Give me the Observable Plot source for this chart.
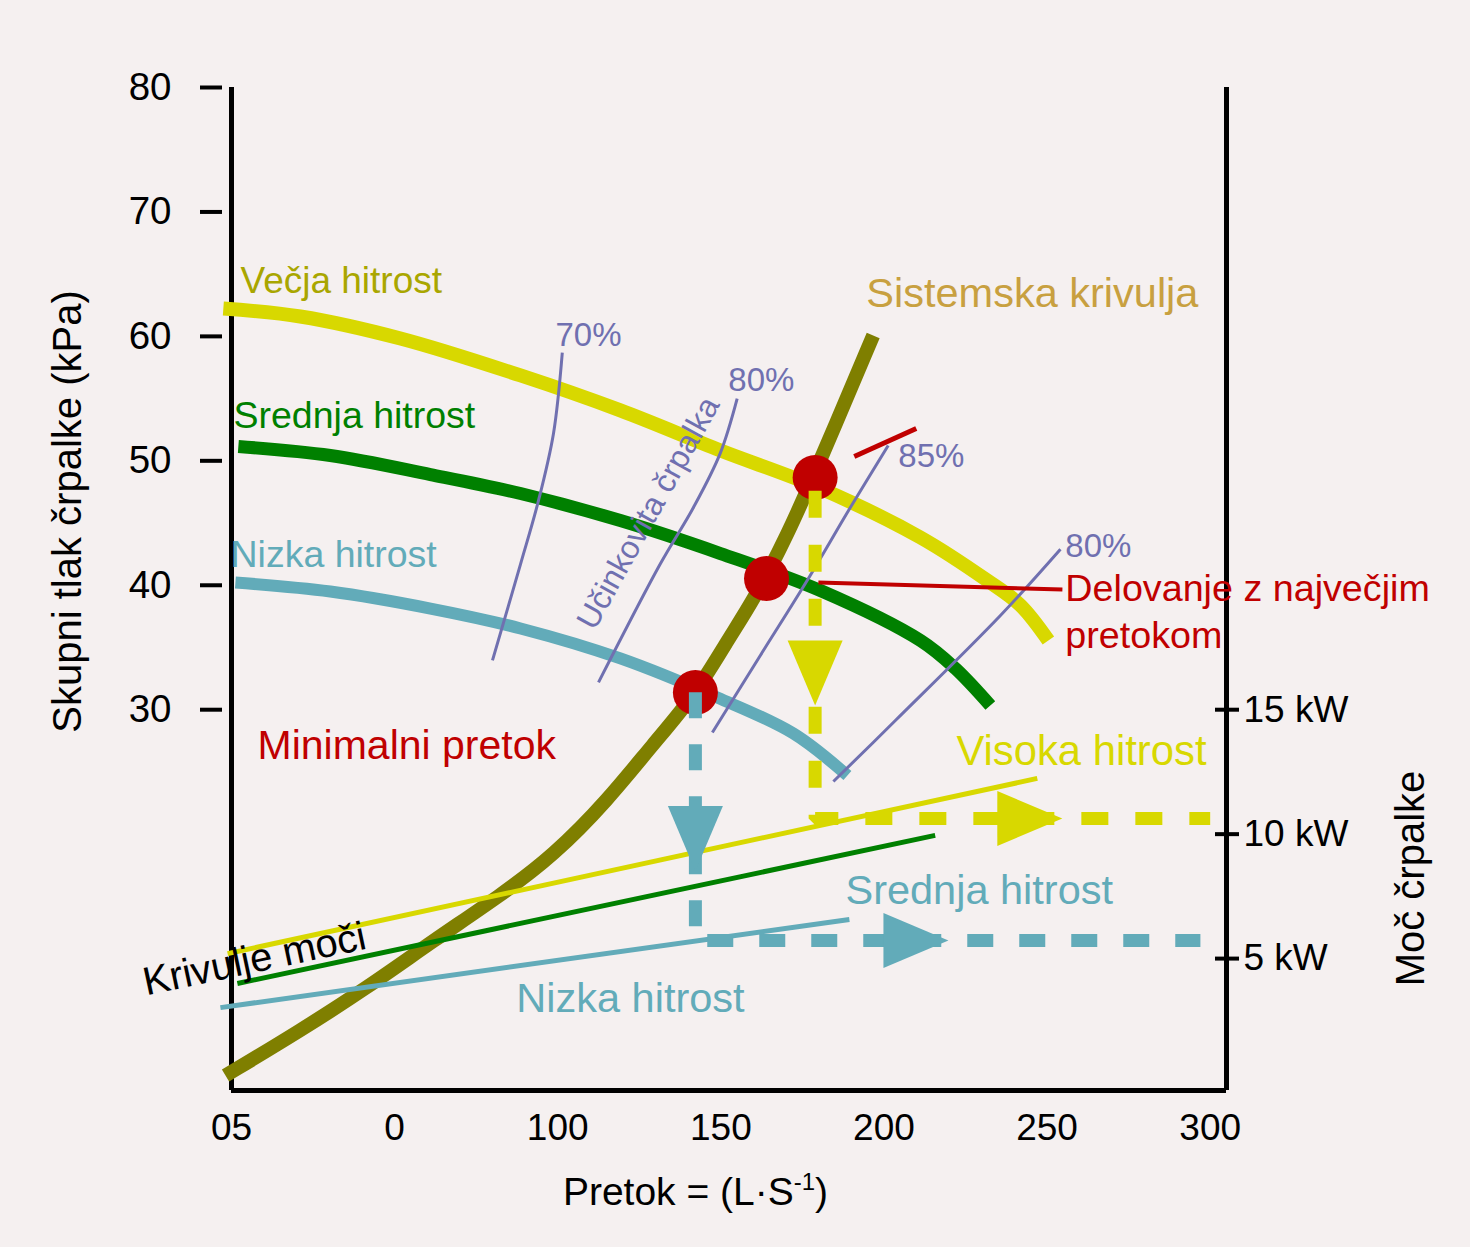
<!DOCTYPE html>
<html>
<head>
<meta charset="utf-8">
<script src="https://cdn.jsdelivr.net/npm/d3@7"></script>
<script src="https://cdn.jsdelivr.net/npm/@observablehq/plot@0.6"></script>
<style>
  html, body { margin: 0; padding: 0; background: #f5f0f0; }
  #chart svg { display: block; }
</style>
</head>
<body>
<div id="chart"></div>
<script>
// ---------------- DATA ----------------
// Axis ticks
const flowTicks = [0, 50, 100, 150, 200, 250, 300];
const flowTickLabels = ["05", "0", "100", "150", "200", "250", "300"];
const headTicks = [30, 40, 50, 60, 70, 80];          // kPa
const powerTicks = [5, 10, 15];                      // kW
const kPaPerKW = 2;                                  // right axis: 15 kW aligns with 30 kPa

// Pump curves (flow L/s, head kPa)
const highSpeedFlow = [-2.5, 21.1, 51.8, 88.6, 119.2, 149.9, 180.5, 211.2, 231.7, 241.8, 250.4];
const highSpeedHead = [62.24, 61.6, 59.83, 56.86, 54.05, 50.83, 47.78, 43.84, 40.38, 38.4, 35.56];
const mediumSpeedFlow = [2.1, 30.3, 61.0, 88.6, 119.2, 149.9, 180.5, 211.2, 221.9, 232.6];
const mediumSpeedHead = [51.15, 50.43, 48.9, 47.37, 45.2, 42.55, 39.58, 35.56, 33.31, 30.34];
const lowSpeedFlow = [1.2, 30.3, 61.0, 88.6, 119.2, 148.9, 172.2, 188.8];
const lowSpeedHead = [40.22, 39.5, 38.13, 36.53, 34.12, 30.98, 28.09, 24.71];

// System curve
const systemFlow = [-1.84, 21.15, 41.68, 61.91, 82.44, 98.68, 115.23, 129.33, 141.59, 152.0, 160.0, 170.4, 180.5, 196.7];
const systemHead = [0.6, 4.22, 7.68, 11.45, 15.07, 18.28, 22.7, 27.28, 30.98, 35.56, 38.78, 44.0, 50.03, 60.07];

// Operating points (low, medium, high speed)
const opFlow = [142.2, 164.0, 178.9];
const opHead = [31.38, 40.54, 48.66];

// Efficiency iso-lines
const eff70Flow = [101.4, 98.7, 94.1, 88.6, 80.0];
const eff70Head = [58.7, 52.2, 46.8, 41.7, 33.96];
const eff80aFlow = [155.0, 149.8, 141.6, 131.5, 112.5];
const eff80aHead = [55.0, 50.6, 46.25, 41.75, 32.2];
const eff85Flow = [201.3, 189.7, 176.5, 162.1, 147.4];
const eff85Head = [51.23, 46.25, 40.4, 34.36, 28.17];
const eff80bFlow = [184.5, 203.5, 235.7, 254.1];
const eff80bHead = [24.23, 29.13, 37.57, 42.9];

// Power curves (flow L/s, power kW)
const highPowerFlow = [-1.2, 247.0];
const highPowerKW = [5.2, 12.24];
const mediumPowerFlow = [1.8, 215.7];
const mediumPowerKW = [4.0, 9.95];
const lowPowerFlow = [-3.4, 189.4];
const lowPowerKW = [3.03, 6.57];

// Read-off of power from operating point (dashed)
const highReadFlow = [178.9, 178.9, 300];
const highReadHead = [47.6, 10.63 * kPaPerKW, 10.63 * kPaPerKW];
const lowReadFlow = [142.2, 142.2, 297];
const lowReadHead = [31.4, 5.73 * kPaPerKW, 5.73 * kPaPerKW];

// Arrow heads along the read-off paths
const arrowFlow = [178.9, 244.7, 142.2, 209.8];
const arrowHead = [32.95, 10.63 * kPaPerKW, 19.65, 5.73 * kPaPerKW];
const arrowDir = ["down", "right", "down", "right"];
const arrowSeries = ["high", "high", "low", "low"];

// Red leader lines
const leaderAFlow = [190.9, 209.9];
const leaderAHead = [50.35, 52.6];
const leaderBFlow = [179.9, 254.7];
const leaderBHead = [40.22, 39.66];

// Annotation labels
const labelText = ["Večja hitrost", "Srednja hitrost", "Nizka hitrost", "Sistemska krivulja",
  "Minimalni pretok", "Visoka hitrost", "Srednja hitrost", "Nizka hitrost",
  "Delovanje z največjim", "pretokom"];
const labelFlow = [2.76, 0.61, -0.31, 194.6, 7.97, 222.2, 188.2, 87.3, 255.6, 255.6];
const labelHead = [64.4, 53.63, 42.46, 63.43, 27.11, 26.64, 15.47, 6.79, 39.74, 35.96];

const pctText = ["70%", "80%", "85%", "80%"];
const pctFlow = [99.3, 152.3, 204.4, 255.6];
const pctHead = [60.04, 56.42, 50.32, 43.16];

const effTitle = "Učinkovita črpalka";
const effTitleFlow = 127.8, effTitleHead = 45.8;
const powerTitle = "Krivulje moči";
const powerTitleFlow = 7.05, powerTitleHead = 9.93;

const yTitle = "Skupni tlak črpalke (kPa)";
const y2Title = "Moč črpalke";
const xTitleParts = ["Pretok = (L·S", "-1", ")"];
const xTitle = xTitleParts.join("");

// ---------------- STYLE ----------------
const C = {
  bg: "#f5f0f0",
  yellow: "#d8d800",
  yellowText: "#a9a600",
  green: "#008000",
  teal: "#62abb9",
  olive: "#7f7f00",
  red: "#c00000",
  purple: "#7070b0",
  tan: "#c8a040"
};
const labelColors = [C.yellowText, C.green, C.teal, C.tan, C.red, C.yellow, C.teal, C.teal, C.red, C.red];
const labelSizes = [37, 37.5, 37.5, 41.5, 41, 41.8, 41.5, 41.5, 37.7, 37.7];
const font = "'Liberation Sans', Arial, Helvetica, sans-serif";
const lineStyle = {strokeLinecap: "butt", strokeLinejoin: "round"};

const zip = (xs, ys) => xs.map((x, i) => ({x, y: ys[i]}));
const kw = (xs, ps) => xs.map((x, i) => ({x, y: ps[i] * kPaPerKW}));

// custom arrowhead symbol, pointing down (tip at +y)
const arrowSymbol = {
  draw(ctx, size) {
    const k = Math.sqrt(size / Math.PI);
    ctx.moveTo(0, k * 1.3);
    ctx.lineTo(-k * 1.1, -k * 1.3);
    ctx.lineTo(k * 1.1, -k * 1.3);
    ctx.closePath();
  }
};
const arrows = arrowFlow.map((x, i) => ({x, y: arrowHead[i], dir: arrowDir[i], s: arrowSeries[i]}));
const labels = labelText.map((t, i) => ({t, x: labelFlow[i], y: labelHead[i], i}));
const pcts = pctText.map((t, i) => ({t, x: pctFlow[i], y: pctHead[i]}));

const svg = Plot.plot({
  width: 1470,
  height: 1247,
  marginLeft: 231,
  marginRight: 244,
  marginTop: 87,
  marginBottom: 157,
  style: {background: C.bg, fontFamily: font, color: "black"},
  x: {domain: [0, 305]},
  y: {domain: [-0.6, 80]},
  marks: [
    // frame lines
    Plot.ruleX([0, 305], {stroke: "black", strokeWidth: 5}),
    Plot.ruleY([-0.6], {stroke: "black", strokeWidth: 5}),
    // axes
    Plot.axisY(headTicks, {anchor: "left", tickSize: 22, dx: -9, tickPadding: 29, fontSize: 38.5, strokeWidth: 4, label: null}),
    Plot.axisY(powerTicks.map(p => p * kPaPerKW), {anchor: "right", tickSize: 24, dx: -12, tickPadding: 5, fontSize: 37, strokeWidth: 4,
      tickFormat: d => `${d / kPaPerKW} kW`, label: null}),
    Plot.axisX(flowTicks, {anchor: "bottom", tickSize: 0, tickPadding: 23, fontSize: 37, label: null,
      tickFormat: d => flowTickLabels[flowTicks.indexOf(d)]}),

    // pump curves
    Plot.line(zip(highSpeedFlow, highSpeedHead), {x: "x", y: "y", stroke: C.yellow, strokeWidth: 14, curve: "catmull-rom", ...lineStyle}),
    Plot.line(zip(mediumSpeedFlow, mediumSpeedHead), {x: "x", y: "y", stroke: C.green, strokeWidth: 13, curve: "catmull-rom", ...lineStyle}),
    Plot.line(zip(lowSpeedFlow, lowSpeedHead), {x: "x", y: "y", stroke: C.teal, strokeWidth: 12, curve: "catmull-rom", ...lineStyle}),
    // system curve
    Plot.line(zip(systemFlow, systemHead), {x: "x", y: "y", stroke: C.olive, strokeWidth: 14, curve: "basis", ...lineStyle}),
    // efficiency lines
    Plot.line(zip(eff70Flow, eff70Head), {x: "x", y: "y", stroke: C.purple, strokeWidth: 3, curve: "catmull-rom", ...lineStyle}),
    Plot.line(zip(eff80aFlow, eff80aHead), {x: "x", y: "y", stroke: C.purple, strokeWidth: 3, curve: "catmull-rom", ...lineStyle}),
    Plot.line(zip(eff85Flow, eff85Head), {x: "x", y: "y", stroke: C.purple, strokeWidth: 3, curve: "catmull-rom", ...lineStyle}),
    Plot.line(zip(eff80bFlow, eff80bHead), {x: "x", y: "y", stroke: C.purple, strokeWidth: 3, curve: "catmull-rom", ...lineStyle}),
    // power curves
    Plot.line(kw(highPowerFlow, highPowerKW), {x: "x", y: "y", stroke: C.yellow, strokeWidth: 5, ...lineStyle}),
    Plot.line(kw(mediumPowerFlow, mediumPowerKW), {x: "x", y: "y", stroke: C.green, strokeWidth: 5, ...lineStyle}),
    Plot.line(kw(lowPowerFlow, lowPowerKW), {x: "x", y: "y", stroke: C.teal, strokeWidth: 5, ...lineStyle}),
    // red leaders
    Plot.line(zip(leaderAFlow, leaderAHead), {x: "x", y: "y", stroke: C.red, strokeWidth: 5, ...lineStyle}),
    Plot.line(zip(leaderBFlow, leaderBHead), {x: "x", y: "y", stroke: C.red, strokeWidth: 4, ...lineStyle}),
    // operating points
    Plot.dot(zip(opFlow, opHead), {x: "x", y: "y", r: 22.5, fill: C.red}),
    // read-off dashed paths
    Plot.line(zip(highReadFlow, highReadHead), {x: "x", y: "y", stroke: C.yellow, strokeWidth: 13, strokeDasharray: "27,27", strokeLinecap: "butt", strokeLinejoin: "miter"}),
    Plot.line(zip(lowReadFlow, lowReadHead), {x: "x", y: "y", stroke: C.teal, strokeWidth: 13, strokeDasharray: "26,26", strokeLinecap: "butt", strokeLinejoin: "miter"}),
    Plot.dot(arrows, {x: "x", y: "y", symbol: arrowSymbol, r: 25,
      fill: d => d.s === "high" ? C.yellow : C.teal,
      rotate: d => d.dir === "down" ? 0 : -90}),

    // labels
    Plot.text(labels, {x: "x", y: "y", text: "t", textAnchor: "start", lineAnchor: "middle",
      fontSize: d => labelSizes[d.i], fill: d => labelColors[d.i]}),
    Plot.text(pcts, {x: "x", y: "y", text: "t", textAnchor: "start", lineAnchor: "middle", fontSize: 33, fill: C.purple}),
    Plot.text([effTitle], {x: () => effTitleFlow, y: () => effTitleHead, text: d => d, textAnchor: "middle", lineAnchor: "middle",
      rotate: -61, fontSize: 32, fill: C.purple}),
    Plot.text([powerTitle], {x: () => powerTitleFlow, y: () => powerTitleHead, text: d => d, textAnchor: "middle", lineAnchor: "middle",
      rotate: -12, fontSize: 40, fill: "black"}),

    // axis titles
    Plot.text([yTitle], {frameAnchor: "left", textAnchor: "middle", lineAnchor: "middle", dx: -163, dy: -77.5, rotate: -90, fontSize: 40, fill: "black"}),
    Plot.text([y2Title], {frameAnchor: "right", textAnchor: "middle", lineAnchor: "middle", dx: 185, dy: 289.5, rotate: -90, fontSize: 40, fill: "black"}),
    Plot.text([xTitle], {frameAnchor: "bottom", textAnchor: "middle", lineAnchor: "middle", dx: -33.5, dy: 102.5, fontSize: 39, fill: "black"})
  ]
});

// superscript in the x title
d3.select(svg).selectAll("text").each(function () {
  if (this.textContent === xTitle) {
    const t = d3.select(this);
    t.text(null);
    t.append("tspan").text(xTitleParts[0]);
    t.append("tspan").attr("dy", -15).attr("font-size", 24).text(xTitleParts[1]);
    t.append("tspan").attr("dy", 15).text(xTitleParts[2]);
  }
});

document.getElementById("chart").appendChild(svg);
</script>
</body>
</html>
